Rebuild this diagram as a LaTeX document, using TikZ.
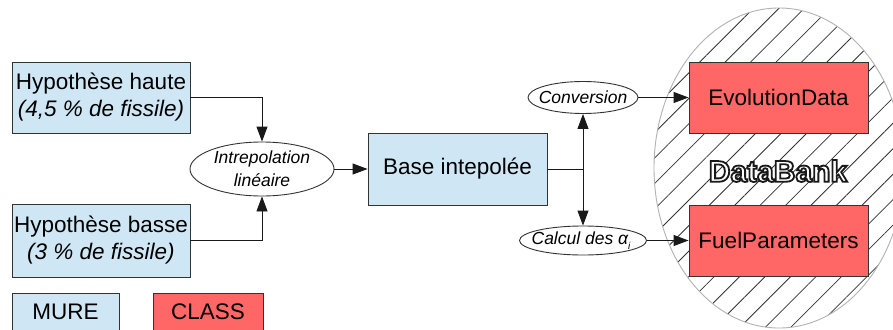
\documentclass[tikz,border=0pt]{standalone}
\usepackage{fontspec}
\setmainfont{Liberation Sans}
\usetikzlibrary{arrows.meta,patterns.meta,shapes.geometric}
\definecolor{mureblue}{HTML}{CFE6F4}
\definecolor{classred}{HTML}{FF6666}
\definecolor{edge}{HTML}{333333}
\newcommand{\outlinetext}[1]{\special{pdf:literal direct 2 Tr 1.8 w 0.1 G}#1\special{pdf:literal direct 0 Tr}}
\begin{document}
\begin{tikzpicture}[x=1pt,y=-1pt,
  box/.style={draw=edge,line width=0.9pt,inner sep=0pt,align=center,font=\fontsize{22.5}{27}\selectfont},
  mure/.style={box,fill=mureblue},
  cls/.style={box,fill=classred},
  ell/.style={draw=edge,line width=0.9pt,ellipse,fill=white,inner sep=0pt},
  elltext/.style={align=center,inner sep=0pt,font=\fontsize{17.5}{23}\selectfont\itshape},
  arr/.style={draw=black!90,line width=0.9pt,-{Triangle[length=15pt,width=11pt]}},
  ln/.style={draw=black!90,line width=0.9pt}]
\useasboundingbox (0,0) rectangle (893,329);
\clip (0,0) rectangle (893,329);
\fill[white] (0,0) rectangle (893,329);
% DataBank ellipse
\path[draw=gray!60,line width=0.9pt,pattern={Lines[angle=45,distance=18pt,line width=0.8pt]},pattern color=black!80]
  (779,168) ellipse [x radius=125pt,y radius=160pt];
% MURE boxes
\node[mure,minimum width=178pt,minimum height=71pt] (haute) at (101,97.5) {Hypothèse haute\\\textit{(4,5 \% de fissile)}};
\node[mure,minimum width=178pt,minimum height=73pt] (basse) at (101,240.5) {Hypothèse basse\\\textit{(3 \% de fissile)}};
\node[mure,minimum width=107pt,minimum height=38pt] (mure) at (65.5,312) {MURE};
\node[cls,minimum width=110pt,minimum height=38pt] (class) at (208,312) {CLASS};
\node[mure,minimum width=179pt,minimum height=72pt] (base) at (457.5,169) {Base intepolée};
% CLASS boxes
\node[cls,minimum width=179pt,minimum height=71pt] (evo) at (778.5,97.5) {EvolutionData};
\node[cls,minimum width=179pt,minimum height=71pt] (fuel) at (778.5,240.5) {FuelParameters};
% ellipses
\node[ell,minimum width=144pt,minimum height=54pt] (interp) at (262,169) {};
\node[elltext] at (interp) {Intrepolation\\linéaire};
\node[ell,minimum width=110pt,minimum height=32pt] (conv) at (583,97.5) {};
\node[elltext] at (conv) {Conversion};
\node[ell,minimum width=127pt,minimum height=29pt] (calc) at (583,240.5) {};
\node[elltext] at ([xshift=-2pt]calc.center) {Calcul des α\raisebox{-0.55ex}{\fontsize{10}{10}\selectfont i}};
% DataBank label
\node[font=\fontsize{30}{30}\selectfont\bfseries,text=white] (db) at (778,171) {\outlinetext{DataBank}};
% connectors
\draw[arr] (haute.east) -| (interp.north);
\draw[arr] (basse.east) -| (interp.south);
\draw[arr] (interp.east) -- (base.west);
\draw[ln] (base.east) -- (base.east -| conv.south) coordinate (j);
\draw[arr] (j) -- (conv.south);
\draw[arr] (j) -- (calc.north);
\draw[arr] (conv.east) -- (evo.west);
\draw[arr] (calc.east) -- (fuel.west);
\end{tikzpicture}
\end{document}
